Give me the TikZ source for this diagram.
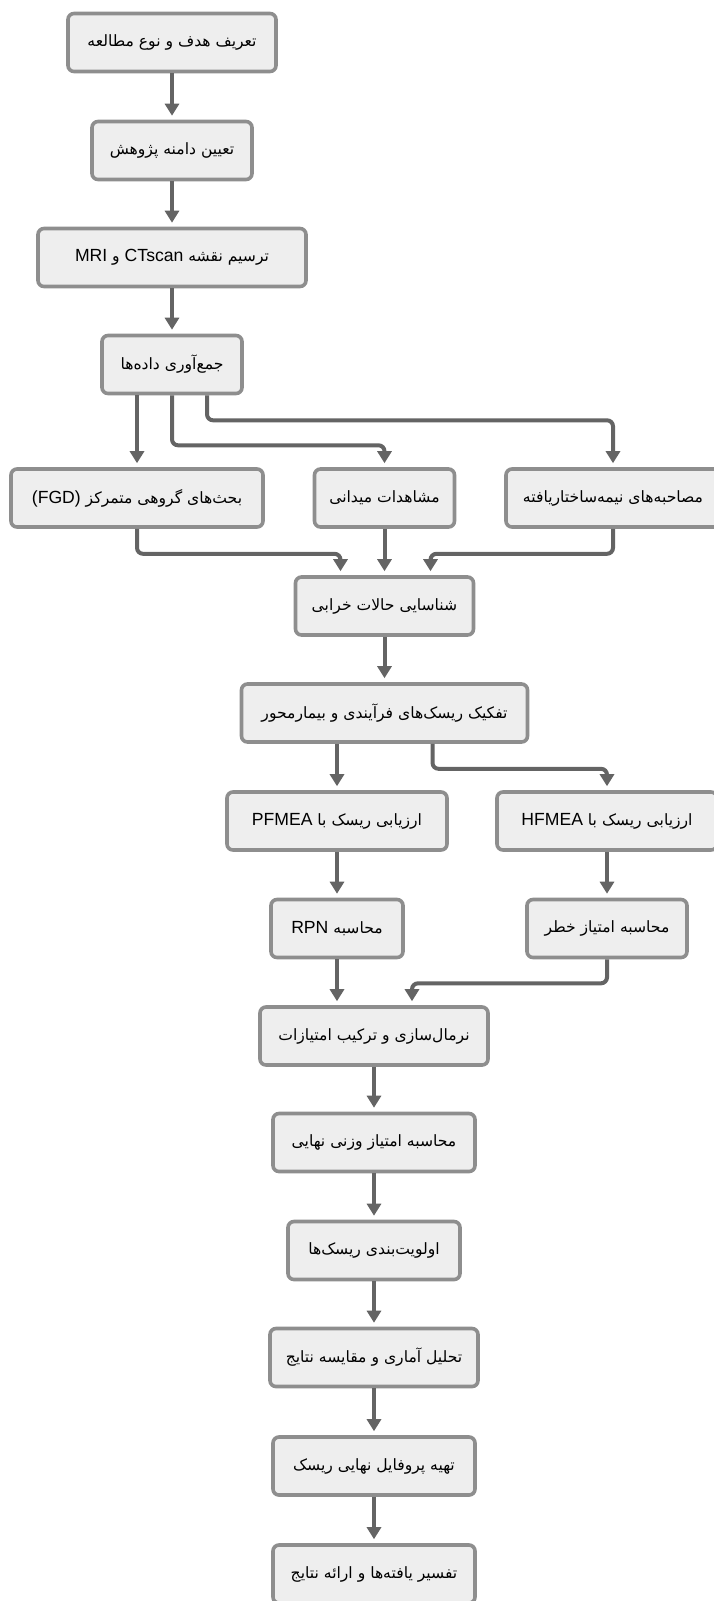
\documentclass[tikz,border=0pt]{standalone}
\usepackage{fontspec}
\usepackage{tikz}
\usetikzlibrary{calc,positioning,shapes}
\usetikzlibrary{shadows}
\usetikzlibrary{arrows.meta}
\setmainfont{Liberation Sans}
\newfontfamily\farsifont[Script=Arabic]{DejaVu Sans}
\TeXXeTstate=1
\newcommand{\fa}[1]{{\farsifont\beginR #1\endR}}
\newcommand{\latn}[1]{\beginL{\rmfamily\fontsize{8.8}{10}\selectfont #1}\endL{}}
\definecolor{boxline}{HTML}{8E8E8E}
\definecolor{boxfill}{HTML}{EEEEEE}
\definecolor{arrline}{HTML}{646464}
\tikzset{>={Triangle[width=7pt,length=6pt]}}

\begin{document}
\begin{tikzpicture}[x=0.5pt, y=-0.5pt]
        \useasboundingbox (0,0) rectangle (713,1601);
        \tikzstyle{pbox} = [draw=boxline, line width=1.8pt, fill=boxfill, rounded corners=3pt,
              minimum height=29pt, inner sep=2pt, align=center, font=\fontsize{7.8}{9.5}\selectfont,
              drop shadow={shadow xshift=0.6pt, shadow yshift=-0.6pt, opacity=0.18}]
        \tikzstyle{flow} = [->, draw=arrline, line width=2pt, rounded corners=3pt, shorten >=2pt]

        % main column
        \node[pbox, minimum width=104pt] (n1) at (172,42.5) {\fa{تعریف هدف و نوع مطالعه}};
        \node[pbox, minimum width=80pt] (n2) at (172,150.5) {\fa{تعیین دامنه پژوهش}};
        \node[pbox, minimum width=134pt] (n3) at (172,257.5) {\fa{ترسیم نقشه \latn{CTscan} و \latn{MRI}}};
        \node[pbox, minimum width=70pt] (n4) at (172,364.5) {\fa{جمع‌آوری داده‌ها}};

        % data sources
        \node[pbox, minimum width=126pt] (fgd) at (137,498) {\fa{بحث‌های گروهی متمرکز \latn{(FGD)}}};
        \node[pbox, minimum width=70pt] (obs) at (384.5,498) {\fa{مشاهدات میدانی}};
        \node[pbox, minimum width=107pt] (intv) at (613,498) {\fa{مصاحبه‌های نیمه‌ساختاریافته}};

        \node[pbox, minimum width=89pt] (fail) at (384.5,606) {\fa{شناسایی حالات خرابی}};
        \node[pbox, minimum width=143pt] (split) at (384.5,713) {\fa{تفکیک ریسک‌های فرآیندی و بیمارمحور}};

        % two branches
        \node[pbox, minimum width=110pt] (pf) at (337,821) {\fa{ارزیابی ریسک با \latn{PFMEA}}};
        \node[pbox, minimum width=110pt] (hf) at (607,821) {\fa{ارزیابی ریسک با \latn{HFMEA}}};
        \node[pbox, minimum width=66pt] (rpn) at (337,928.5) {\fa{محاسبه \latn{RPN}}};
        \node[pbox, minimum width=80pt] (haz) at (607,928.5) {\fa{محاسبه امتیاز خطر}};

        % final column
        \node[pbox, minimum width=114pt] (norm) at (374,1036) {\fa{نرمال‌سازی و ترکیب امتیازات}};
        \node[pbox, minimum width=101pt] (wsc) at (374,1142.5) {\fa{محاسبه امتیاز وزنی نهایی}};
        \node[pbox, minimum width=86pt] (prio) at (374,1250.5) {\fa{اولویت‌بندی ریسک‌ها}};
        \node[pbox, minimum width=104pt] (stat) at (374,1357.5) {\fa{تحلیل آماری و مقایسه نتایج}};
        \node[pbox, minimum width=101pt] (prof) at (374,1466) {\fa{تهیه پروفایل نهایی ریسک}};
        \node[pbox, minimum width=101pt] (intp) at (374,1574) {\fa{تفسیر یافته‌ها و ارائه نتایج}};

        \draw[flow] (n1) -- (n2);
        \draw[flow] (n2) -- (n3);
        \draw[flow] (n3) -- (n4);
        \draw[flow] (n4.south -| fgd) -- (fgd);
        \draw[flow] (n4.south) -- ++(0,50) -| (obs.north);
        \draw[flow] ([xshift=17.5pt]n4.south) -- ++(0,25) -| (intv.north);
        \draw[flow] (fgd.south) -- ++(0,25) -| ([xshift=-22pt]fail.north);
        \draw[flow] (obs) -- (fail);
        \draw[flow] (intv.south) -- ++(0,25) -| ([xshift=23pt]fail.north);
        \draw[flow] (fail) -- (split);
        \draw[flow] (split.south -| pf) -- (pf);
        \draw[flow] ([xshift=24pt]split.south) -- ++(0,25) -| (hf.north);
        \draw[flow] (pf) -- (rpn);
        \draw[flow] (hf) -- (haz);
        \draw[flow] (rpn.south) -- (rpn.south |- norm.north);
        \draw[flow] (haz.south) -- ++(0,24) -| ([xshift=19pt]norm.north);
        \draw[flow] (norm) -- (wsc);
        \draw[flow] (wsc) -- (prio);
        \draw[flow] (prio) -- (stat);
        \draw[flow] (stat) -- (prof);
        \draw[flow] (prof) -- (intp);
      \end{tikzpicture}
\end{document}
